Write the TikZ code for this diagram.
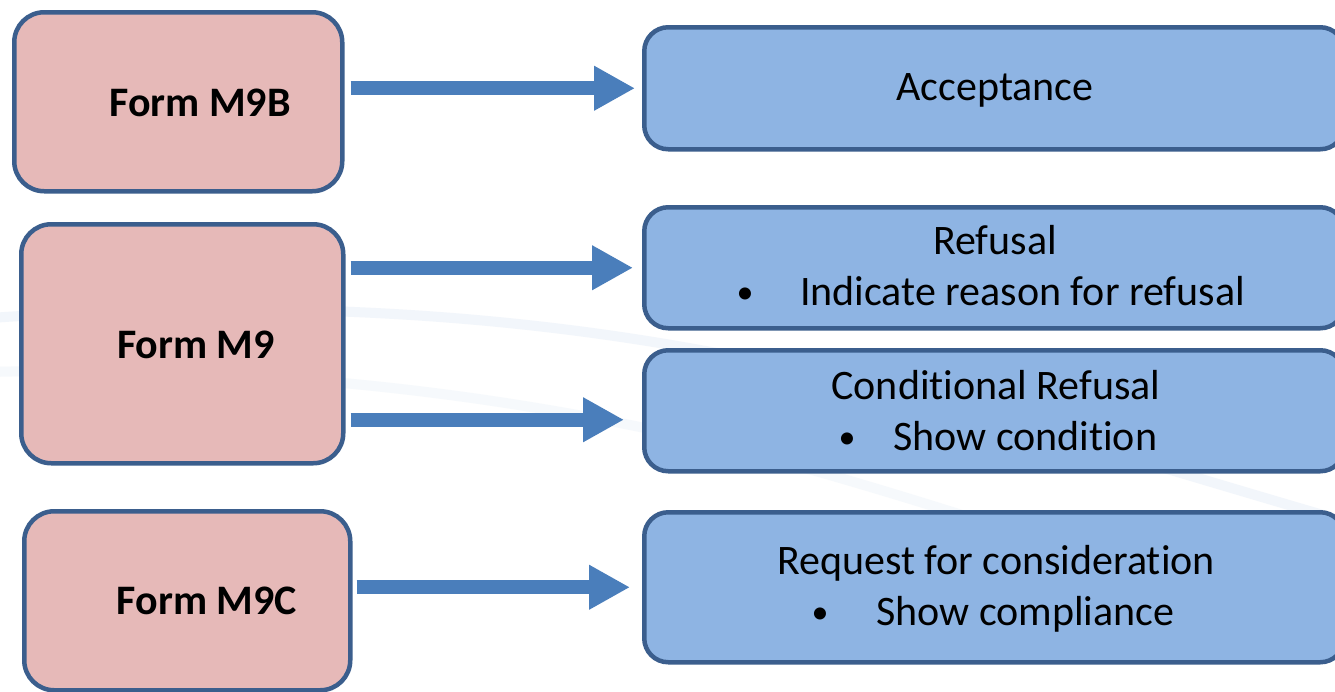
\documentclass[tikz,border=0pt]{standalone}
\usepackage{fontspec}
\setmainfont{Carlito}[Ligatures={NoCommon}]
\usetikzlibrary{arrows.meta,calc}
\definecolor{pinkfill}{HTML}{E6B9B8}
\definecolor{bluefill}{HTML}{8EB4E3}
\definecolor{edgeblue}{HTML}{3B5E8D}
\definecolor{arrowblue}{HTML}{4A7EBB}
\definecolor{swooshc}{HTML}{F2F6FB}
\begin{document}
\begin{tikzpicture}[x=1pt,y=-1pt,
  formbox/.style={draw=edgeblue, line width=4.5pt, fill=pinkfill, rounded corners=30pt,
    inner sep=0pt, anchor=north west},
  resbox/.style={draw=edgeblue, line width=4.5pt, fill=bluefill, rounded corners=24pt,
    inner sep=0pt, anchor=north west},
  formtext/.style={font=\fontsize{42}{50}\selectfont\bfseries, anchor=base, inner sep=0pt},
  restext/.style={font=\fontsize{42}{50}\selectfont, anchor=base, inner sep=0pt},
  bulletmark/.style={font=\fontsize{34}{40}\selectfont, anchor=base, inner sep=0pt},
  bullettext/.style={font=\fontsize{42}{50}\selectfont, anchor=base west, inner sep=0pt},
  bigarrow/.style={draw=arrowblue, line width=14pt, -{Triangle[length=41pt,width=42pt]}},
  swoosh/.style={draw=swooshc, line width=10pt, line cap=round}
]
\useasboundingbox (0,0) rectangle (1335,691);
\clip (0,0) rectangle (1335,691);
\fill[white] (0,0) rectangle (1335,691);
% faint background swooshes
\draw[swoosh] (-10,318) .. controls (250,300) and (480,310) .. (700,350) .. controls (900,385) and (1100,450) .. (1340,520);
\draw[swoosh, draw=swooshc!70] (-10,372) .. controls (250,365) and (480,390) .. (700,440) .. controls (900,490) and (1100,560) .. (1340,640);

% left boxes
\node[formbox, minimum width=328pt, minimum height=179pt] (m9b) at (12,10) {};
\node[formbox, minimum width=322pt, minimum height=239pt] (m9) at (19,222) {};
\node[formbox, minimum width=326pt, minimum height=179pt] (m9c) at (22,509) {};

% right boxes
\node[resbox, minimum width=700pt, minimum height=122pt] (acc) at (642,25) {};
\node[resbox, minimum width=700pt, minimum height=121pt] (ref) at (642,205) {};
\node[resbox, minimum width=700pt, minimum height=121pt] (cond) at (642,348) {};
\node[resbox, minimum width=700pt, minimum height=150pt] (req) at (642,510) {};

% left texts
\node[formtext] (t9b) at (200,116) {Form M9B};
\node[formtext] (t9) at (196,358) {Form M9};
\node[formtext] (t9c) at (207,614) {Form M9C};

% right texts
\node[restext] (tacc) at (995,100) {Acceptance};
\node[restext] (tref) at (995,254) {Refusal};
\node[bulletmark] (bref) at (745,303) {•};
\node[bullettext] (lref) at (800,305) {Indicate reason for refusal};
\node[restext] (tcond) at (996,399) {Conditional Refusal};
\node[bulletmark] (bcond) at (847,448) {•};
\node[bullettext] (lcond) at (893,450) {Show condition};
\node[restext] (treq) at (996,574) {Request for consideration};
\node[bulletmark] (breq) at (820,623) {•};
\node[bullettext] (lreq) at (876,625) {Show compliance};

% arrows
\draw[bigarrow, shorten <=6pt, shorten >=7pt] (m9b.east |- acc.west) -- (acc.west);
\draw[bigarrow, shorten <=5pt, shorten >=9pt] (m9.east |- ref.west) -- (ref.west);
\coordinate (condin) at ($(cond.west)+(0,9)$);
\draw[bigarrow, shorten <=5pt, shorten >=18pt] (m9.east |- condin) -- (condin);
\draw[bigarrow, shorten <=4pt, shorten >=12pt] (m9c.east |- req.west) -- (req.west);
\end{tikzpicture}
\end{document}
